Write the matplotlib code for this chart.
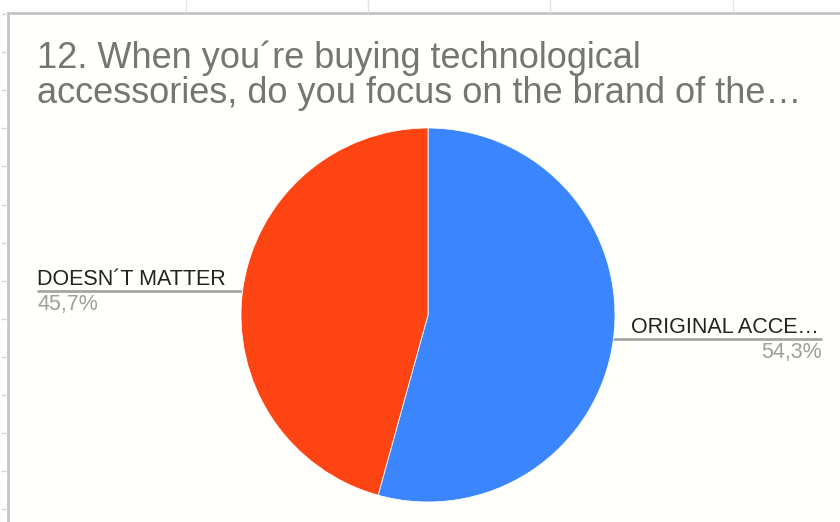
import numpy as np
import matplotlib.pyplot as plt

title_lines = ["12. When you\u00b4re buying technological",
               "accessories, do you focus on the brand of the\u2026"]
labels = ["ORIGINAL ACCE\u2026", "DOESN\u00b4T MATTER"]
shares = [54.3, 45.7]
colors = ["#3b85ff", "#ff4413"]

W, H = 840, 522
cx, cy, rad = 428, 315, 187  # pie centre and radius in pixels

plt.rcParams["font.family"] = ["Liberation Sans", "DejaVu Sans"]
fig = plt.figure(figsize=(W / 100, H / 100), dpi=100)
fig.patch.set_facecolor("white")

# frame / sheet grid overlay in pixel units
bg = fig.add_axes([0, 0, 1, 1])
bg.set_xlim(0, W)
bg.set_ylim(H, 0)
bg.axis("off")
bg.add_patch(plt.Rectangle((8, 13), W, H, fc="#fffffc", ec="none", zorder=0))
bg.plot([8, W], [13, 13], color="#c4c4c4", lw=2, zorder=1)
bg.plot([8, 8], [13, H], color="#c4c4c4", lw=2, zorder=1)
for x in [186, 368, 550, 733]:
    bg.plot([x, x], [0, 12], color="#e2e2e2", lw=1)
for y in np.arange(14, H, 38.1):
    bg.plot([2, 7], [y, y], color="#d8d8d8", lw=1)

for i, line in enumerate(title_lines):
    bg.text(37, 68 + 35 * i, line, fontsize=26, color="#757575",
            va="baseline")

# pie
pax = fig.add_axes([(cx - rad) / W, 1 - (cy + rad) / H, 2 * rad / W, 2 * rad / H])
pax.pie(shares, colors=colors, startangle=90, counterclock=False,
        wedgeprops=dict(linewidth=0.6, edgecolor="#fffffc"))
pax.set_xlim(-1, 1)
pax.set_ylim(-1, 1)
pax.set_aspect("equal")

# leader lines and labels
start = 0.0
for lab, val in zip(labels, shares):
    mid = np.deg2rad((start + val / 2) / 100 * 360)
    start += val
    dx, dy = cx + 0.95 * rad * np.sin(mid), cy - 0.95 * rad * np.cos(mid)
    pct = f"{val:.1f}%".replace(".", ",")
    if np.sin(mid) > 0:
        x_end, ha, tx = 822, "right", 631
    else:
        x_end, ha, tx = 37, "left", 37
    bg.plot([dx, x_end], [dy, dy], color="#a6a6a6", lw=2, zorder=3,
            solid_capstyle="butt")
    bg.plot(dx, dy, "o", ms=5, color="#a6a6a6", zorder=4)
    bg.text(tx, dy - 6, lab, fontsize=15.5, color="#222222", ha="left",
            va="baseline", zorder=4)
    bg.text(x_end, dy + 3, pct, fontsize=15.5, color="#9e9e9e", ha=ha,
            va="top", zorder=4)

fig.savefig("out.png", dpi=100, facecolor=fig.get_facecolor())
